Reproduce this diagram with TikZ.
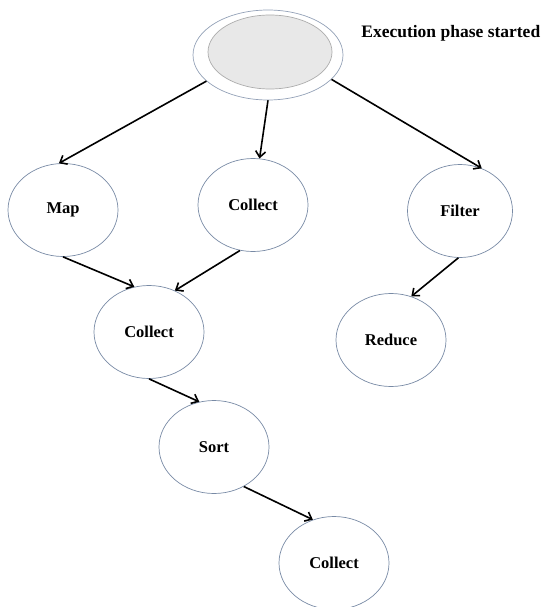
\documentclass[tikz,border=0pt]{standalone}
\usepackage{fontspec}
\setmainfont{Liberation Serif}
\usepackage{xcolor}
\usepackage{tikz}
\usetikzlibrary{shapes.geometric, arrows.meta}

\definecolor{ringblue}{RGB}{120,138,165}

\begin{document}
\begin{tikzpicture}[x=1pt, y=-1pt,
    every node/.style={ellipse, draw=ringblue, line width=0.7pt, inner sep=0pt,
        font=\fontsize{16.5}{19}\selectfont\bfseries},
    phase/.style={minimum width=110pt, minimum height=93pt},
    flow/.style={-{Straight Barb[length=6pt, width=10pt]}, line width=1.6pt}]
    \useasboundingbox (0,0) rectangle (547,607);

    \node [minimum width=150pt, minimum height=90pt, fill=white, draw=ringblue!80] (start) at (268,55) {};
    \node [minimum width=124pt, minimum height=74pt, fill=gray!18, draw=gray!65] (core) at (270,52) {};
    \node [draw=none, rectangle, anchor=west, font=\fontsize{17.5}{20}\selectfont\bfseries] (label) at (361,33) {Execution phase started};

    \node [phase] (map) at (63,210) {Map};
    \node [phase] (collect) at (253,205) {Collect};
    \node [phase, minimum width=105pt] (filter) at (460,211) {Filter};
    \node [phase] (collectb) at (149,332) {Collect};
    \node [phase] (reduce) at (391,340) {Reduce};
    \node [phase] (sort) at (214,447) {Sort};
    \node [phase] (collectc) at (334,563) {Collect};

    \draw [flow] (start.203) -- (map.95);
    \draw [flow] (start.south) -- (collect.82);
    \draw [flow] (start.339) -- (filter.63);
    \draw [flow] (map.south) -- (collectb.108);
    \draw [flow] (collect.254) -- (collectb.58);
    \draw [flow] (filter.268) -- (reduce.65);
    \draw [flow] (collectb.south) -- (sort.108);
    \draw [flow] (sort.307) -- (collectc.116);
\end{tikzpicture}
\end{document}
